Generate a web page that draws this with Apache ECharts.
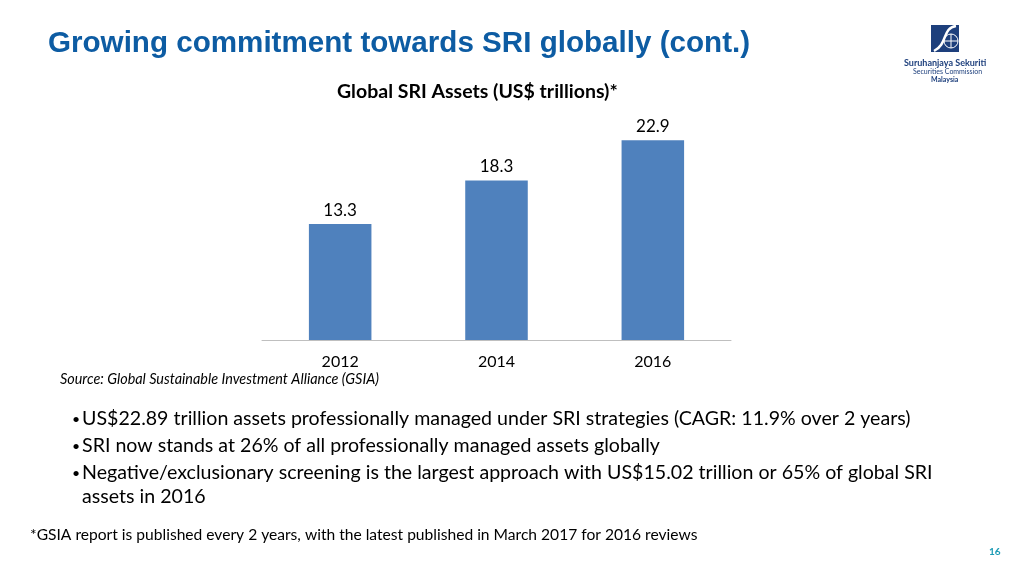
<!DOCTYPE html>
<html>
<head>
<meta charset="utf-8">
<script src="https://cdn.jsdelivr.net/npm/echarts@6/dist/echarts.min.js"></script>
<style>
  html, body { margin: 0; padding: 0; background: #fff; }
  #chart { width: 1024px; height: 576px; }
</style>
</head>
<body>
<div id="chart"></div>
<script>
// data
var years = ['2012', '2014', '2016']
var sriAssets = [13.3, 18.3, 22.9]
var bullets = [
  'US$22.89 trillion assets professionally managed under SRI strategies (CAGR: 11.9% over 2 years)',
  'SRI now stands at 26% of all professionally managed assets globally',
  'Negative/exclusionary screening is the largest approach with US$15.02 trillion or 65% of global SRI',
  'assets in 2016'
]
var bulletY = [419, 446, 473, 497]

var font = 'Lato, "Open Sans", sans-serif'
var chart = echarts.init(document.getElementById('chart'))

function label(x, y, text, f, fill) {
  return {
    type: 'text', x: x, y: y,
    style: { text: text, font: f, fill: fill || '#000', verticalAlign: 'middle' }
  }
}

var graphics = [
  // slide heading
  label(48, 44, 'Growing commitment towards SRI globally (cont.)', 'bold 29.6px "Liberation Sans", Arial, sans-serif', '#0d5ca3'),
  // chart caption
  label(337, 92, 'Global SRI Assets (US$ trillions)*', 'bold 19.5px ' + font),
  label(60, 379, 'Source: Global Sustainable Investment Alliance (GSIA)', 'italic 14.4px ' + font),
  label(30, 535, '*GSIA report is published every 2 years, with the latest published in March 2017 for 2016 reviews', '15.6px ' + font),
  label(989, 552, '16', 'bold 10px ' + font, '#1b9bb5'),
  // logo
  { type: 'rect', shape: { x: 931, y: 25, width: 28, height: 27 }, style: { fill: '#1d3f7c' } },
  {
    type: 'bezierCurve',
    shape: { x1: 956, y1: 26, cpx1: 942, cpy1: 28, cpx2: 948, cpy2: 44, x2: 934, y2: 51 },
    style: { stroke: '#fff', lineWidth: 2.5, fill: null }
  },
  { type: 'circle', shape: { cx: 951, cy: 41, r: 7 }, style: { stroke: '#fff', lineWidth: 1, fill: null } },
  { type: 'line', shape: { x1: 944, y1: 41, x2: 958, y2: 41 }, style: { stroke: '#fff', lineWidth: 1 } },
  { type: 'line', shape: { x1: 951, y1: 34, x2: 951, y2: 48 }, style: { stroke: '#fff', lineWidth: 1 } },
  label(904, 63, 'Suruhanjaya Sekuriti', 'bold 9px ' + font, '#1d3f7c'),
  label(913, 72, 'Securities Commission', '7px ' + font, '#1d3f7c'),
  label(931, 80, 'Malaysia', 'bold 7px ' + font, '#1d3f7c')
]

bullets.forEach(function (b, i) {
  if (i < 3) graphics.push(label(72, bulletY[i], '•', '14px ' + font))
  graphics.push(label(82, bulletY[i], b, '19.6px ' + font))
})

chart.setOption({
  animation: false,
  grid: { left: 262, right: 293, top: 122, bottom: 236 },
  xAxis: {
    type: 'category',
    data: years,
    axisLine: { lineStyle: { color: '#bfbfbf' } },
    axisTick: { length: 5, lineStyle: { color: '#bfbfbf' } },
    axisLabel: { color: '#000', fontSize: 16, fontFamily: font, margin: 14 }
  },
  yAxis: {
    type: 'value',
    min: 0,
    max: 25,
    show: false
  },
  series: [{
    type: 'bar',
    data: sriAssets,
    barWidth: '40%',
    itemStyle: { color: '#4f81bd' },
    label: {
      show: true,
      position: 'top',
      distance: 5,
      color: '#000',
      fontSize: 17,
      fontFamily: font,
      formatter: function (p) { return p.value.toFixed(1) }
    }
  }],
  graphic: graphics
})
</script>
</body>
</html>
